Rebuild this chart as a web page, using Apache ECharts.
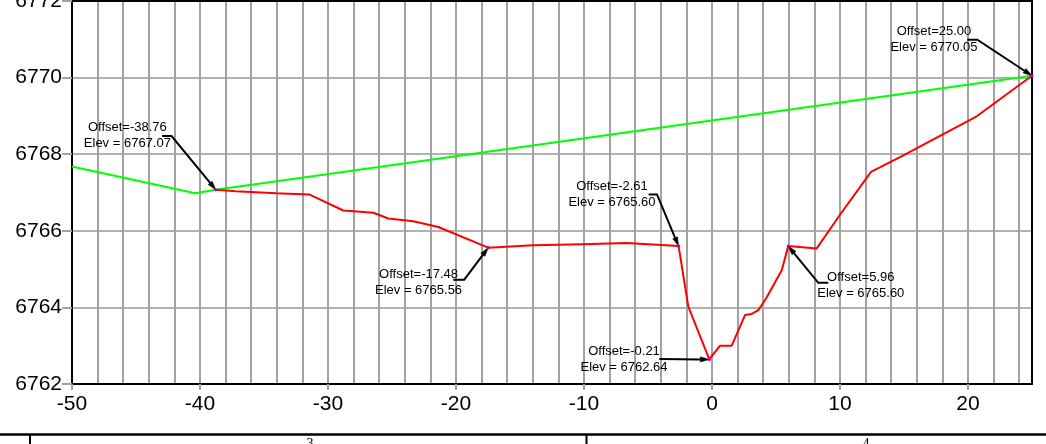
<!DOCTYPE html>
<html>
<head>
<meta charset="utf-8">
<title>Cross Section</title>
<script src="https://cdn.jsdelivr.net/npm/echarts@6/dist/echarts.min.js"></script>
<style>
  html, body { margin: 0; padding: 0; background: #fff; }
  #chart { width: 1046px; height: 444px; }
</style>
</head>
<body>
<div id="chart"></div>
<script>
// Existing ground profile (offset, elevation)
const groundProfile = [
  [-38.76, 6767.07],
  [-37.19, 6767.03],
  [-34.06, 6766.98],
  [-31.48, 6766.95],
  [-28.80, 6766.53],
  [-26.46, 6766.47],
  [-25.29, 6766.32],
  [-23.34, 6766.25],
  [-21.38, 6766.10],
  [-17.48, 6765.56],
  [-13.96, 6765.62],
  [-10.08, 6765.65],
  [-6.66, 6765.68],
  [-2.61, 6765.60],
  [-1.85, 6764.02],
  [-0.21, 6762.64],
  [0.63, 6763.00],
  [1.54, 6763.00],
  [2.58, 6763.80],
  [3.10, 6763.83],
  [3.62, 6763.93],
  [4.20, 6764.22],
  [4.70, 6764.52],
  [5.20, 6764.82],
  [5.45, 6764.97],
  [5.96, 6765.60],
  [8.18, 6765.54],
  [10.00, 6766.42],
  [12.42, 6767.54],
  [14.95, 6767.97],
  [20.68, 6768.99],
  [25.00, 6770.05]
];

// Design grade line
const gradeLine = [
  [-50.00, 6767.68],
  [-40.37, 6766.98],
  [-38.76, 6767.07],
  [25.00, 6770.05]
];

// Stations called out with offset / elevation labels
const calloutStations = [
  [-38.76, 6767.07],
  [-17.48, 6765.56],
  [-2.61, 6765.60],
  [-0.21, 6762.64],
  [5.96, 6765.60],
  [25.00, 6770.05]
];

// Axis ranges and tick spacing
const offsetRange = [-50, 25];
const elevRange = [6762, 6772];
const offsetGridStep = 2;
const offsetLabelStep = 10;
const elevStep = 2;

// Leader layout for each callout (pixels): elbow relative to the point,
// tail length of the horizontal underline, text centre relative to the elbow
const calloutLayout = [
  { dx: -44.3, dy: -53.7, tail: -9.4, tx: -44.2, ty: -0.5 },
  { dx: -24.0, dy: 32.0, tail: -11.0, tx: -45.7, ty: 2.8 },
  { dx: -21.6, dy: -51.7, tail: -8.4, tx: -45.0, ty: 0.3 },
  { dx: -50.0, dy: -0.5, tail: 0, tx: -35.3, ty: 0.8 },
  { dx: 30.0, dy: 36.7, tail: 10.0, tx: 42.5, ty: 3.0 },
  { dx: -54.7, dy: -36.0, tail: -10.0, tx: -43.3, ty: 0 }
];

const FONT = 'Liberation Sans, Arial, Helvetica, sans-serif';
const GRID_GRAY = '#a2a2a2';

function renderCallout(params, api) {
  const x = api.value(0);
  const y = api.value(1);
  const p = api.coord([x, y]);
  const lay = calloutLayout[params.dataIndex];
  const elbow = [p[0] + lay.dx, p[1] + lay.dy];
  const tailEnd = [elbow[0] + lay.tail, elbow[1]];

  // arrow head at the point, pointing from the elbow
  const vx = p[0] - elbow[0], vy = p[1] - elbow[1];
  const len = Math.sqrt(vx * vx + vy * vy) || 1;
  const ux = vx / len, uy = vy / len;
  const aL = 9, aW = 2.6;
  const base = [p[0] - ux * aL, p[1] - uy * aL];
  const arrow = [
    [p[0], p[1]],
    [base[0] - uy * aW, base[1] + ux * aW],
    [base[0] + uy * aW, base[1] - ux * aW]
  ];

  return {
    type: 'group',
    children: [
      {
        type: 'polyline',
        shape: { points: [tailEnd, elbow, base] },
        style: { stroke: '#000', lineWidth: 2, fill: null }
      },
      {
        type: 'polygon',
        shape: { points: arrow },
        style: { fill: '#000', stroke: '#000', lineWidth: 0.5 }
      },
      {
        type: 'circle',
        shape: { cx: p[0], cy: p[1], r: 1.6 },
        style: { fill: '#b000d0' }
      },
      {
        type: 'text',
        x: elbow[0] + lay.tx,
        y: elbow[1] + lay.ty,
        style: {
          text: 'Offset=' + x.toFixed(2) + '\nElev = ' + y.toFixed(2),
          font: '13px ' + FONT,
          lineHeight: 16,
          align: 'center',
          verticalAlign: 'middle',
          fill: '#000'
        }
      }
    ]
  };
}

const chart = echarts.init(document.getElementById('chart'), null, { renderer: 'canvas' });

chart.setOption({
  animation: false,
  backgroundColor: '#fff',
  grid: { left: 72, right: 14, top: 1, bottom: 60, containLabel: false, outerBoundsMode: 'none' },
  xAxis: [
    {
      type: 'value',
      position: 'bottom',
      min: offsetRange[0],
      max: offsetRange[1],
      interval: offsetGridStep,
      axisLine: { show: true, onZero: false, lineStyle: { color: '#000', width: 2 } },
      axisTick: { show: false },
      axisLabel: { show: false },
      splitLine: { show: true, lineStyle: { color: GRID_GRAY, width: 2 } }
    },
    {
      type: 'value',
      position: 'bottom',
      min: offsetRange[0],
      max: offsetRange[1],
      interval: offsetLabelStep,
      axisLine: { show: false, onZero: false },
      axisTick: { show: true, length: 6, lineStyle: { color: GRID_GRAY, width: 2 } },
      axisLabel: {
        show: true,
        showMaxLabel: false,
        margin: 10,
        fontSize: 21,
        fontFamily: FONT,
        color: '#000',
        formatter: function (v) { return String(v); }
      },
      splitLine: { show: false }
    },
    {
      type: 'value',
      position: 'top',
      min: offsetRange[0],
      max: offsetRange[1],
      axisLine: { show: true, onZero: false, lineStyle: { color: '#000', width: 2 } },
      axisTick: { show: false },
      axisLabel: { show: false },
      splitLine: { show: false }
    }
  ],
  yAxis: [
    {
      type: 'value',
      position: 'left',
      min: elevRange[0],
      max: elevRange[1],
      interval: elevStep,
      axisLine: { show: true, onZero: false, lineStyle: { color: '#000', width: 2 } },
      axisTick: { show: true, length: 10, lineStyle: { color: GRID_GRAY, width: 2 } },
      axisLabel: {
        margin: 10,
        fontSize: 21,
        fontFamily: FONT,
        color: '#000',
        formatter: function (v) { return String(v); }
      },
      splitLine: { show: true, lineStyle: { color: '#b2b2b2', width: 2 } }
    },
    {
      type: 'value',
      position: 'right',
      min: elevRange[0],
      max: elevRange[1],
      axisLine: { show: true, onZero: false, lineStyle: { color: '#000', width: 2 } },
      axisTick: { show: false },
      axisLabel: { show: false },
      splitLine: { show: false }
    }
  ],
  series: [
    {
      name: 'Grade',
      type: 'line',
      xAxisIndex: 0,
      yAxisIndex: 0,
      data: gradeLine,
      showSymbol: false,
      symbol: 'none',
      lineStyle: { color: '#00ff00', width: 2 },
      z: 3
    },
    {
      name: 'Existing Ground',
      type: 'line',
      xAxisIndex: 0,
      yAxisIndex: 0,
      data: groundProfile,
      showSymbol: false,
      symbol: 'none',
      lineStyle: { color: '#ff0000', width: 2 },
      z: 4
    },
    {
      name: 'Callouts',
      type: 'custom',
      xAxisIndex: 0,
      yAxisIndex: 0,
      data: calloutStations,
      clip: false,
      silent: true,
      z: 5,
      renderItem: renderCallout
    }
  ],
  graphic: [
    {
      type: 'line',
      shape: { x1: 0, y1: 434.5, x2: 1046, y2: 434.5 },
      style: { stroke: '#000', lineWidth: 2.6 }
    },
    {
      type: 'line',
      shape: { x1: 30, y1: 435, x2: 30, y2: 444 },
      style: { stroke: '#000', lineWidth: 2 }
    },
    {
      type: 'line',
      shape: { x1: 586.5, y1: 435, x2: 586.5, y2: 444 },
      style: { stroke: '#000', lineWidth: 2 }
    },
    {
      type: 'text',
      x: 310,
      y: 437.5,
      style: { text: '3', font: '14px Liberation Serif, serif', align: 'center', verticalAlign: 'top', fill: '#000' }
    },
    {
      type: 'text',
      x: 866,
      y: 437.5,
      style: { text: '4', font: '14px Liberation Serif, serif', align: 'center', verticalAlign: 'top', fill: '#000' }
    }
  ]
});
</script>
</body>
</html>
